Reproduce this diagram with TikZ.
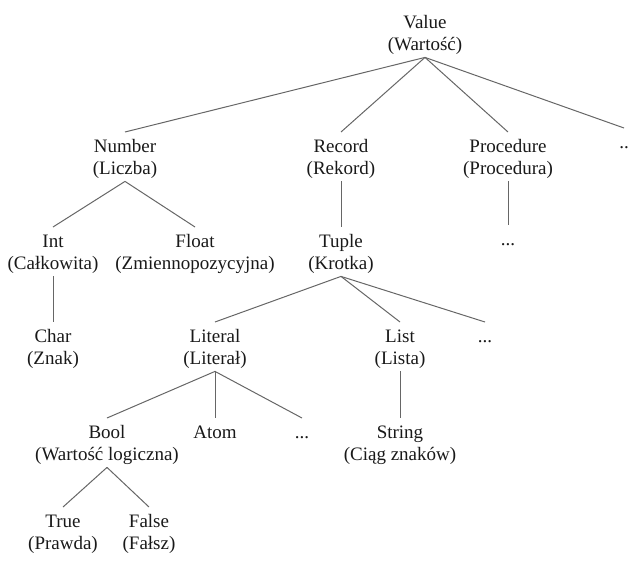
\documentclass[tikz,border=0pt]{standalone}
\usepackage{fontspec}
\setmainfont{Liberation Serif}
\newcommand\twol[2]{\rule{0pt}{20pt}#1\\#2\rule[-7pt]{0pt}{7pt}}
\newcommand\onel[1]{\rule[-7pt]{0pt}{27pt}#1}
\begin{document}
\begin{tikzpicture}[x=1pt,y=-1pt,
  t/.style={anchor=north, align=center, inner sep=0pt, font=\fontsize{19}{22}\selectfont, text=black!90},
  edge/.style={draw=black!60, line width=1pt}]
\useasboundingbox (0,0) rectangle (632,560);
\node[t] (value) at (425,8) {\twol{Value}{(Wartość)}};
\node[t] (number) at (125,132) {\twol{Number}{(Liczba)}};
\node[t] (record) at (341,132) {\twol{Record}{(Rekord)}};
\node[t] (proc) at (508,132) {\twol{Procedure}{(Procedura)}};
\node[t] (vdots) at (624,128) {\onel{..}};
\node[t] (int) at (53,227) {\twol{Int}{(Całkowita)}};
\node[t] (float) at (195,227) {\twol{Float}{(Zmiennopozycyjna)}};
\node[t] (tuple) at (341,227) {\twol{Tuple}{(Krotka)}};
\node[t] (pdots) at (508,225) {\onel{...}};
\node[t] (char) at (53,322) {\twol{Char}{(Znak)}};
\node[t] (literal) at (215,322) {\twol{Literal}{(Literał)}};
\node[t] (list) at (400,322) {\twol{List}{(Lista)}};
\node[t] (tdots) at (485,322) {\onel{...}};
\node[t] (bool) at (107,418) {\twol{Bool}{(Wartość logiczna)}};
\node[t] (atom) at (215,418) {\onel{Atom}};
\node[t] (ldots) at (302,418) {\onel{...}};
\node[t] (string) at (400,418) {\twol{String}{(Ciąg znaków)}};
\node[t] (true) at (63,507) {\twol{True}{(Prawda)}};
\node[t] (false) at (149,507) {\twol{False}{(Fałsz)}};
\foreach \a/\b in {value/number, value/record, value/proc, value/vdots,
  number/int, number/float, int/char, record/tuple, proc/pdots,
  tuple/literal, tuple/list, tuple/tdots, list/string,
  literal/bool, literal/atom, literal/ldots, bool/true, bool/false}
  \draw[edge] (\a.south) -- (\b.north);
\end{tikzpicture}
\end{document}
